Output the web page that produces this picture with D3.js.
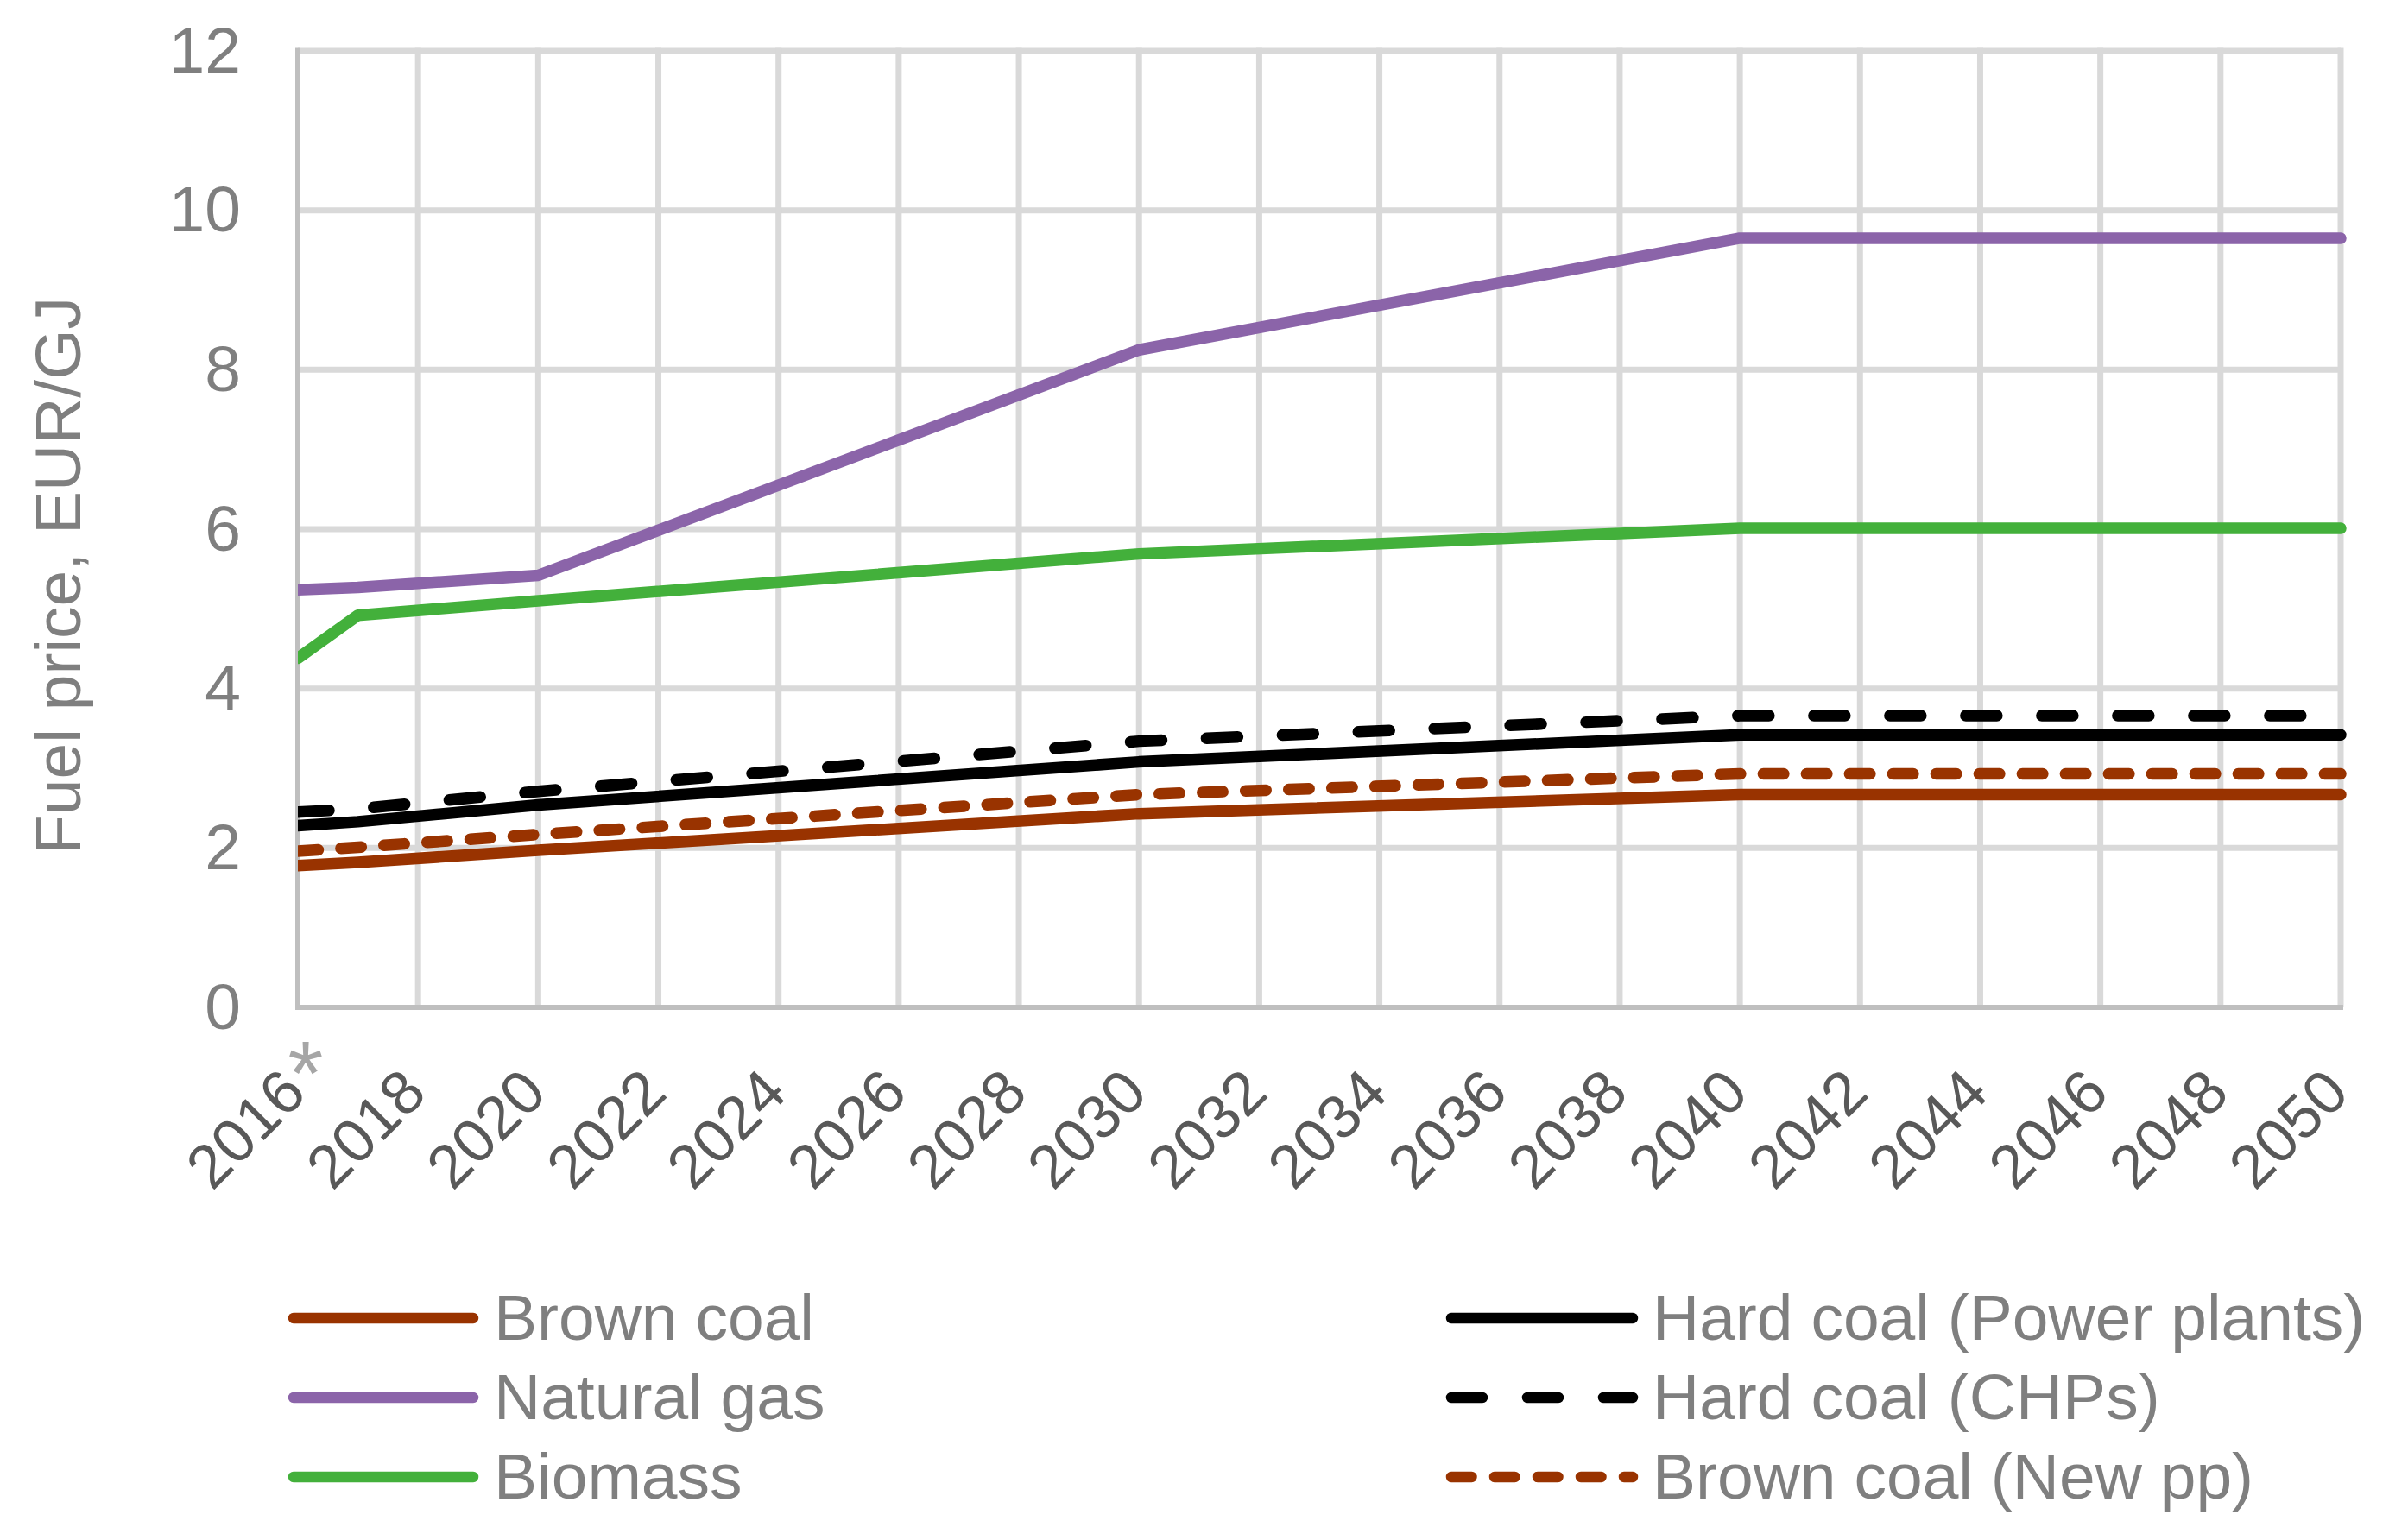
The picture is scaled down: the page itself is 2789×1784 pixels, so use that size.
<!DOCTYPE html>
<html>
<head>
<meta charset="utf-8">
<script src="https://cdn.jsdelivr.net/npm/d3@7"></script>
<style>
  body { margin: 0; background: #fff; }
  text { font-family: "Liberation Sans", Arial, sans-serif; }
</style>
</head>
<body>
<div id="root"></div>
<script>
// category axis: one point per year, label every other year
var years = d3.range(2016, 2051);
var tickYears = [2016, 2018, 2020, 2022, 2024, 2026, 2028, 2030, 2032, 2034,
                 2036, 2038, 2040, 2042, 2044, 2046, 2048, 2050];
var yTicks = [0, 2, 4, 6, 8, 10, 12];

// values read at the break points of each line
var knotYears    = [2016, 2017, 2020, 2030, 2040, 2050];
var brownCoal    = [1.78, 1.82, 1.97, 2.43, 2.67, 2.67];
var naturalGas   = [5.24, 5.27, 5.42, 8.25, 9.65, 9.65];
var biomass      = [4.38, 4.92, 5.10, 5.69, 6.01, 6.01];
var hardCoalPP   = [2.28, 2.33, 2.54, 3.08, 3.42, 3.42];
var hardCoalCHP  = [2.45, 2.49, 2.71, 3.34, 3.66, 3.66];
var brownCoalNew = [1.96, 2.01, 2.17, 2.67, 2.93, 2.93];

var seriesNames = ['Brown coal', 'Natural gas', 'Biomass',
                   'Hard coal (Power plants)', 'Hard coal (CHPs)', 'Brown coal (New pp)'];

var W = 2789, H = 1784;
// plot area (note: "top" is taken by window.top, so use other names)
var plotL = 345, plotR = 2711, plotT = 59, plotB = 1167;
var lineW = 13.5;

var styles = [
  { color: '#993300', dash: null },
  { color: '#8B64A9', dash: null },
  { color: '#43B03B', dash: null },
  { color: '#000000', dash: null },
  { color: '#000000', dash: '36,52' },
  { color: '#993300', dash: '23.5,26.5' }
];

var seriesValues = [brownCoal, naturalGas, biomass, hardCoalPP, hardCoalCHP, brownCoalNew];
var series = seriesNames.map((name, i) => ({
  name: name,
  color: styles[i].color,
  dash: styles[i].dash,
  points: knotYears.map((yr, j) => ({ year: yr, value: seriesValues[i][j] }))
}));

var svg = d3.select('#root')
  .append('svg')
    .attr('width', W)
    .attr('height', H);

var x = d3.scalePoint()
  .domain(years)
  .range([plotL, plotR]);

var y = d3.scaleLinear()
  .domain([0, 12])
  .range([plotB, plotT]);

// gridlines
svg.append('g')
  .selectAll('line')
  .data(yTicks.filter(d => d > 0))
  .enter()
  .append('line')
    .attr('x1', plotL)
    .attr('x2', plotR)
    .attr('y1', d => y(d))
    .attr('y2', d => y(d))
    .attr('stroke', '#d9d9d9')
    .attr('stroke-width', 7);

svg.append('g')
  .selectAll('line')
  .data(tickYears.filter(d => d > 2016))
  .enter()
  .append('line')
    .attr('x1', d => x(d))
    .attr('x2', d => x(d))
    .attr('y1', plotT - 3.5)
    .attr('y2', plotB)
    .attr('stroke', '#d9d9d9')
    .attr('stroke-width', 7);

// y axis
var yAxis = svg.append('g')
  .attr('transform', 'translate(' + plotL + ',0)')
  .call(d3.axisLeft(y).tickValues(yTicks).tickSize(0).tickPadding(66));
yAxis.select('.domain').remove();
yAxis.selectAll('text')
  .attr('fill', '#7f7f7f')
  .attr('font-size', 75)
  .attr('font-family', '"Liberation Sans", Arial, sans-serif');

// x axis
var xAxis = svg.append('g')
  .attr('transform', 'translate(0,' + plotB + ')')
  .call(d3.axisBottom(x).tickValues(tickYears).tickSize(0));
xAxis.select('.domain').remove();
xAxis.selectAll('text')
  .attr('x', 0)
  .attr('y', 0)
  .attr('dy', 0)
  .attr('transform', 'translate(12,102) rotate(-45)')
  .attr('text-anchor', 'end')
  .attr('fill', '#595959')
  .attr('font-size', 71)
  .attr('font-family', '"Liberation Sans", Arial, sans-serif');

svg.append('text')
  .attr('x', x(2016) + 9)
  .attr('y', 1280)
  .attr('text-anchor', 'middle')
  .attr('fill', '#a6a6a6')
  .attr('font-size', 105)
  .text('*');

// axis lines
svg.append('line')
  .attr('x1', plotL).attr('x2', plotL)
  .attr('y1', plotT - 3.5).attr('y2', plotB + 3)
  .attr('stroke', '#bfbfbf')
  .attr('stroke-width', 6);
svg.append('line')
  .attr('x1', plotL - 3).attr('x2', plotR + 3)
  .attr('y1', plotB).attr('y2', plotB)
  .attr('stroke', '#bfbfbf')
  .attr('stroke-width', 6);

// y title
svg.append('text')
  .attr('transform', 'translate(93,667) rotate(-90)')
  .attr('text-anchor', 'middle')
  .attr('fill', '#7f7f7f')
  .attr('font-size', 75)
  .text('Fuel price, EUR/GJ');

// lines, clipped at the y axis like Excel's plot area
svg.append('clipPath')
  .attr('id', 'plotclip')
  .append('rect')
    .attr('x', plotL)
    .attr('y', 0)
    .attr('width', W - plotL)
    .attr('height', H);

var line = d3.line()
  .x(d => x(d.year))
  .y(d => y(d.value));

svg.append('g')
  .attr('clip-path', 'url(#plotclip)')
  .selectAll('path')
  .data(series)
  .enter()
  .append('path')
    .attr('d', d => line(d.points))
    .attr('fill', 'none')
    .attr('stroke', d => d.color)
    .attr('stroke-width', lineW)
    .attr('stroke-linecap', 'round')
    .attr('stroke-linejoin', 'round')
    .attr('stroke-dasharray', d => d.dash);

// legend: two columns of three
var legendRows = [1527, 1619, 1711];
var legendCols = [{ x1: 340, x2: 548, tx: 572 }, { x1: 1681, x2: 1891, tx: 1914 }];

var legend = svg.append('g')
  .selectAll('g')
  .data(series)
  .enter()
  .append('g')
    .attr('transform', (d, i) => 'translate(0,' + legendRows[i % 3] + ')');

legend.append('line')
  .attr('x1', (d, i) => legendCols[Math.floor(i / 3)].x1)
  .attr('x2', (d, i) => legendCols[Math.floor(i / 3)].x2)
  .attr('stroke', d => d.color)
  .attr('stroke-width', 12.5)
  .attr('stroke-linecap', 'round')
  .attr('stroke-dasharray', d => d.dash);

legend.append('text')
  .attr('x', (d, i) => legendCols[Math.floor(i / 3)].tx)
  .attr('y', 25)
  .attr('fill', '#7f7f7f')
  .attr('font-size', 75)
  .text(d => d.name);
</script>
</body>
</html>
